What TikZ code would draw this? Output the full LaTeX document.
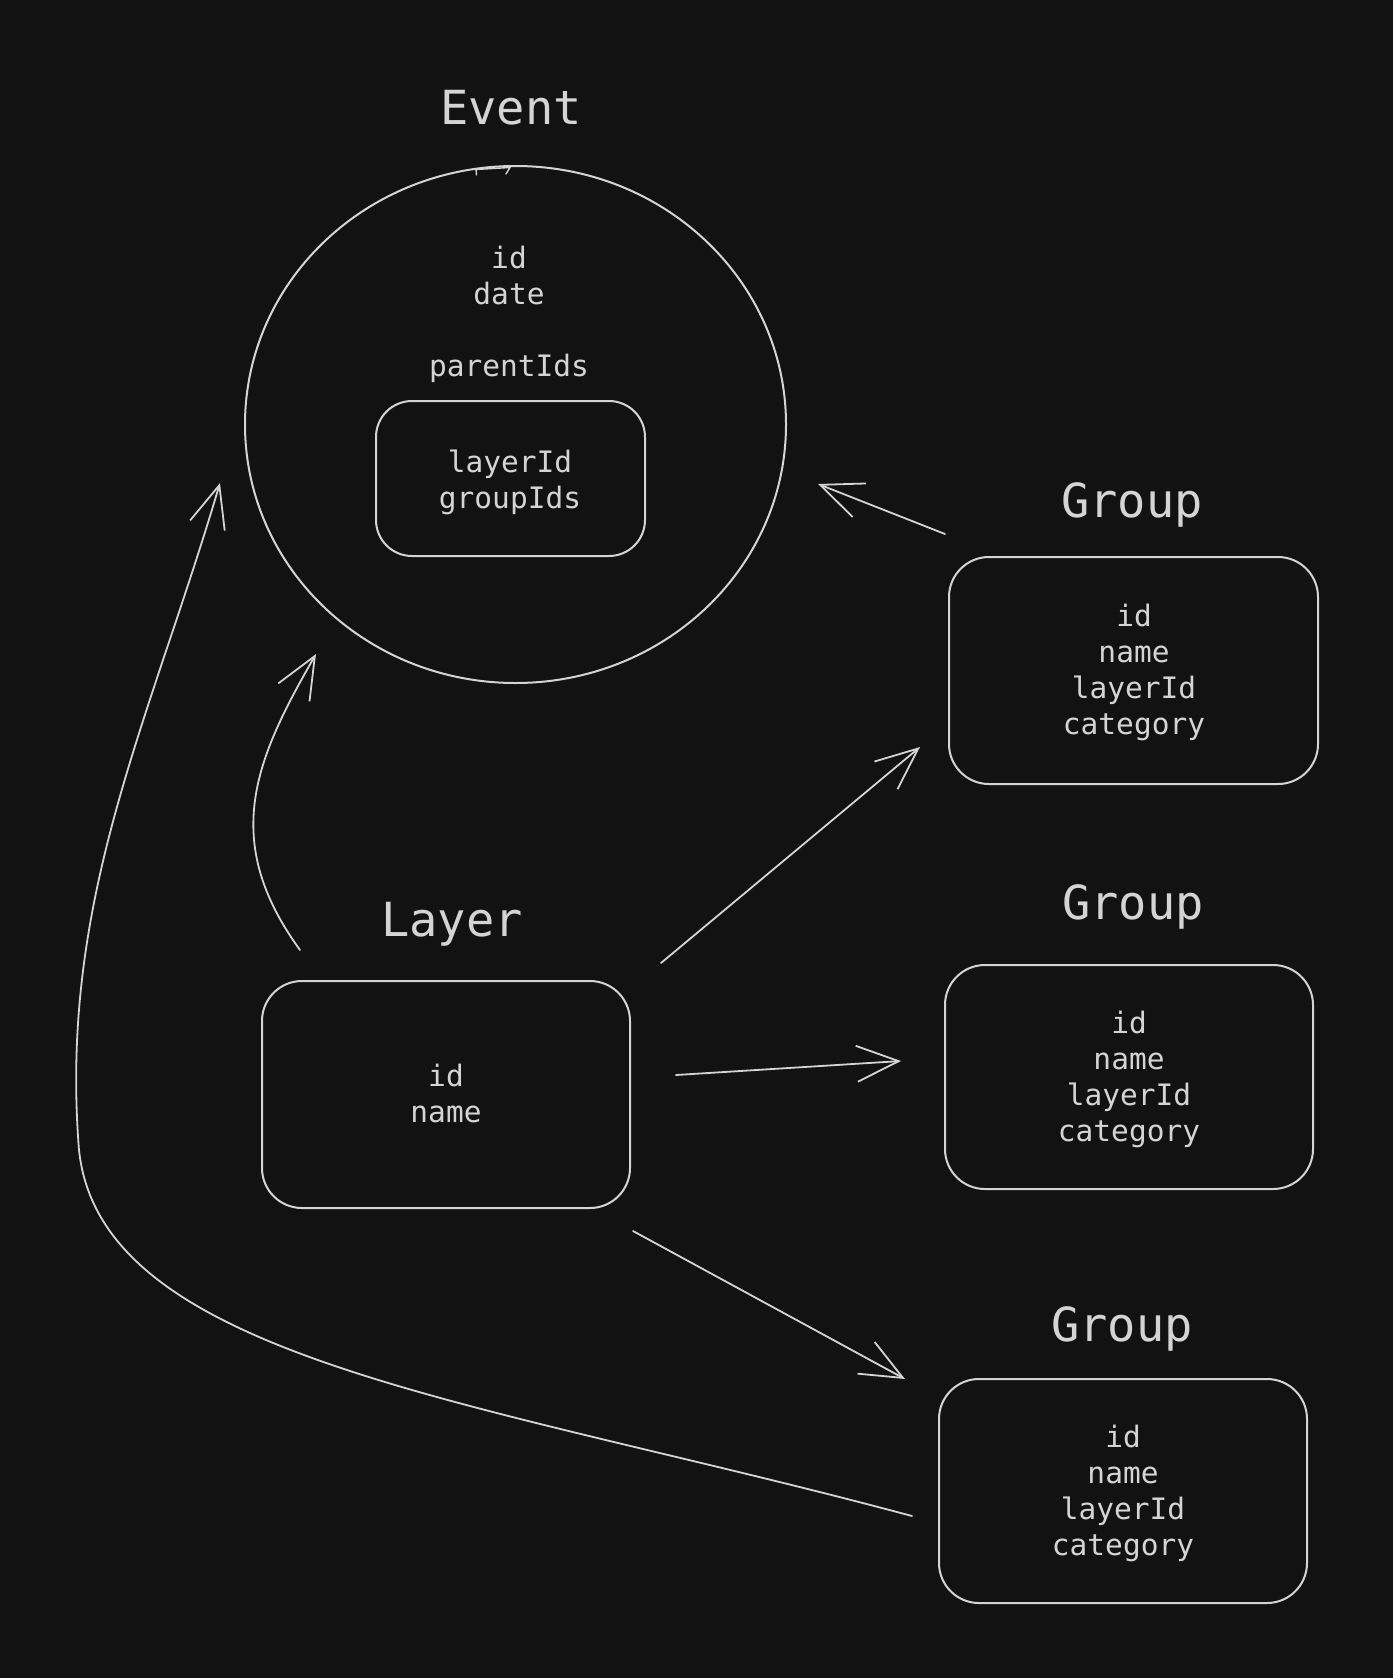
\documentclass[tikz,border=0pt]{standalone}
\usepackage{fontspec}
\setmonofont{DejaVu Sans Mono}
\usetikzlibrary{arrows.meta,shapes.geometric}
\definecolor{bg}{HTML}{121212}
\definecolor{ink}{HTML}{D4D4D4}
\tikzset{
  shapeline/.style={draw=ink, line width=2pt},
  rbox/.style={shapeline, rectangle, rounded corners=40pt, inner sep=0pt},
  titletext/.style={text=ink, font=\ttfamily\fontsize{47}{56}\selectfont, anchor=base, inner sep=0pt},
  field/.style={text=ink, font=\ttfamily\fontsize{29.5}{36}\selectfont, anchor=base, inner sep=0pt},
  conn/.style={draw=ink, line width=1.8pt, line cap=round, line join=round,
    -{Straight Barb[length=42pt,width=36pt]}},
}
\begin{document}
\begin{tikzpicture}[x=1pt,y=-1pt]
\fill[bg] (0,0) rectangle (1393,1678);
\useasboundingbox (0,0) rectangle (1393,1678);

% Event
\node[titletext] (evtitle) at (511,124) {Event};
\node[shapeline, ellipse, minimum width=541pt, minimum height=517pt, inner sep=0pt] (event) at (515.5,424.5) {};
\draw[draw=ink, line width=1.4pt, line cap=round] (476.5,175) -- (476,169.5) -- (510,167.5) -- (506,174);
\node[field] (evid) at (509,268) {id};
\node[field] (evdate) at (509,304) {date};
\node[field] (evparents) at (509,376) {parentIds};
\node[rbox, minimum width=269pt, minimum height=155pt, rounded corners=36pt] (inner) at (510.5,478.5) {};
\node[field] (inlayer) at (510,472) {layerId};
\node[field] (ingroups) at (510,508) {groupIds};

% Group 1
\node[titletext] (g1title) at (1132,517) {Group};
\node[rbox, minimum width=369pt, minimum height=227pt] (g1) at (1133.5,670.5) {};
\node[field] (g1a) at (1134,626) {id};
\node[field] (g1b) at (1134,662) {name};
\node[field] (g1c) at (1134,698) {layerId};
\node[field] (g1d) at (1134,734) {category};

% Group 2
\node[titletext] (g2title) at (1133,919) {Group};
\node[rbox, minimum width=368pt, minimum height=224pt] (g2) at (1129,1077) {};
\node[field] (g2a) at (1129,1033) {id};
\node[field] (g2b) at (1129,1069) {name};
\node[field] (g2c) at (1129,1105) {layerId};
\node[field] (g2d) at (1129,1141) {category};

% Group 3
\node[titletext] (g3title) at (1122,1341) {Group};
\node[rbox, minimum width=368pt, minimum height=224pt] (g3) at (1123,1491) {};
\node[field] (g3a) at (1123,1447) {id};
\node[field] (g3b) at (1123,1483) {name};
\node[field] (g3c) at (1123,1519) {layerId};
\node[field] (g3d) at (1123,1555) {category};

% Layer
\node[titletext] (laytitle) at (452,936) {Layer};
\node[rbox, minimum width=368pt, minimum height=227pt] (layer) at (446,1094.5) {};
\node[field] (laya) at (446,1086) {id};
\node[field] (layb) at (446,1122) {name};

% connector end points
\coordinate (g1out) at (945,534);
\coordinate (evright) at (818,484);
\coordinate (layup) at (300,950);
\coordinate (evbottom) at (316,654);
\coordinate (layne) at (661,963);
\coordinate (g1in) at (920,747);
\coordinate (laye) at (676,1075);
\coordinate (g2in) at (901,1061);
\coordinate (layse) at (633,1231);
\coordinate (g3in) at (905,1379);
\coordinate (g3out) at (912,1516);
\coordinate (bend) at (79,1150);
\coordinate (evleft) at (220,483);

\draw[conn] (g1out) -- (evright);
\draw[conn] (layup) .. controls (220,840) and (255,760) .. (evbottom);
\draw[conn] (layne) -- (g1in);
\draw[conn] (laye) -- (g2in);
\draw[conn] (layse) -- (g3in);
\draw[conn] (g3out) .. controls (477,1399) and (101,1360) .. (bend)
                    .. controls (59,900) and (149,723) .. (evleft);
\end{tikzpicture}
\end{document}
